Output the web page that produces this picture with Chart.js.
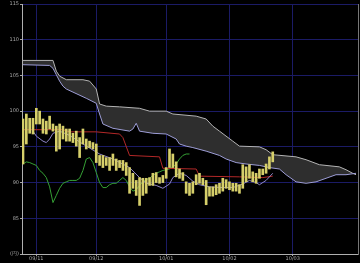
<!DOCTYPE html>
<html>
<head>
<meta charset="utf-8">
<script src="https://cdn.jsdelivr.net/npm/chart.js@4"></script>
<style>
body { margin: 0; background: #000; }
canvas { display: block; }
</style>
</head>
<body>
<canvas id="ichimoku" width="360" height="263"></canvas>
<script>
// month starts (trading day index) and their labels
let monthDays = [4, 22, 43, 62, 81];
let monthLabels = ['09/11', '09/12', '10/01', '10/02', '10/03'];

// y ticks
let priceTicks = [80, 85, 90, 95, 100, 105, 110, 115];

// daily bars (high / low)
let barHigh = [98.9, 99.6, 99.0, 99.0, 100.4, 100.0, 98.9, 98.6, 99.3, 98.2,
  97.9, 98.2, 97.9, 97.5, 97.5, 96.9, 97.2, 96.3, 97.5, 96.1,
  95.8, 95.6, 95.4, 93.8, 93.8, 93.5, 93.5, 94.0, 93.3, 93.1,
  93.1, 92.8, 92.1, 91.3, 90.3, 90.7, 90.6, 90.6, 90.7, 91.3,
  91.4, 90.7, 91.0, 92.1, 94.7, 94.0, 92.9, 91.9, 91.4, 90.1,
  89.9, 90.1, 91.1, 91.3, 90.6, 90.3, 89.4, 89.4, 89.7, 89.9,
  90.6, 90.4, 90.1, 89.9, 89.9, 89.7, 92.5, 92.2, 92.5, 91.5,
  91.3, 91.9, 91.9, 92.6, 93.6, 94.3];
let barLow = [92.6, 95.4, 96.9, 96.8, 98.2, 98.2, 96.9, 96.8, 97.5, 97.2,
  94.4, 94.7, 96.1, 95.8, 95.8, 95.6, 95.1, 93.5, 95.4, 94.7,
  94.9, 94.7, 92.8, 92.4, 92.1, 92.4, 91.7, 92.4, 91.7, 92.1,
  91.7, 91.0, 88.5, 89.2, 88.2, 86.8, 88.2, 88.5, 89.6, 89.6,
  90.0, 89.9, 90.0, 90.6, 92.1, 92.1, 90.8, 90.6, 90.3, 88.5,
  88.2, 88.5, 89.7, 89.9, 89.7, 86.9, 88.1, 88.1, 88.3, 88.5,
  88.8, 89.2, 89.0, 88.8, 88.8, 88.5, 89.2, 90.1, 90.6, 90.1,
  89.9, 90.6, 91.1, 91.3, 91.9, 92.9];

// chikou span (green), from day 0
let chikou = [92.6, 92.9, 92.8, 92.6, 92.4, 91.7, 91.3, 90.7, 89.4, 87.2,
  88.2, 89.2, 89.9, 90.1, 90.3, 90.3, 90.3, 90.6, 91.7, 93.3,
  93.5, 92.8, 91.4, 90.0, 89.3, 89.3, 89.7, 89.9, 89.9, 90.3,
  90.7, 90.3, 89.4, 88.8, 89.0, 89.6, 90.1, 90.4, 90.6, 91.0,
  91.3, 91.5, 91.7, 91.8, 91.9, 92.2, 92.6, 93.3, 93.8, 94.0, 94.0];

// tenkan (lavender)
let tenkanDays = [3, 4, 6, 7, 8, 9, 11, 14, 18, 23, 27, 32, 35, 37, 40, 42, 44, 45, 47, 49,
  51, 53, 56, 60, 63, 66, 68, 70, 71, 73, 75];
let tenkanValues = [97.2, 96.5, 95.8, 95.6, 96.1, 96.9, 97.2, 96.6, 95.4, 94.0, 93.3, 92.1, 90.7, 89.9, 89.6, 89.2, 89.8, 90.7, 91.3, 91.0,
  90.2, 89.7, 89.4, 89.3, 89.3, 89.8, 90.3, 90.0, 89.7, 90.3, 91.3];

// kijun (red)
let kijunDays = [0, 12, 14, 22, 29, 30, 32, 41, 42, 52, 53, 65, 72, 75];
let kijunValues = [97.4, 97.4, 97.1, 97.1, 96.8, 96.3, 93.8, 93.6, 92.0, 91.9, 90.9, 90.8, 90.7, 90.9];

// cloud edges
let spanTopDays = [0, 9, 10, 11, 13, 18, 20, 22, 23, 25, 29, 35, 38, 43, 45, 52, 55, 57, 59, 63,
  65, 71, 73, 75, 82, 85, 89, 95, 97, 99, 100];
let spanTopValues = [107.1, 107.1, 105.6, 104.9, 104.4, 104.4, 104.2, 103.1, 101.0, 100.7, 100.6, 100.4, 100.0, 100.0, 99.6, 99.3, 98.9, 97.9, 97.2, 95.8,
  95.1, 95.0, 94.6, 93.9, 93.6, 93.2, 92.5, 92.2, 91.8, 91.3, 91.1];
let spanLowDays = [0, 8, 9, 10, 11, 12, 13, 19, 22, 23, 24, 27, 32, 33, 34, 35, 39, 43, 46, 47,
  49, 51, 55, 59, 61, 64, 67, 71, 74, 77, 79, 82, 85, 88, 91, 94, 97, 100];
let spanLowValues = [106.5, 106.4, 106.0, 105.1, 104.2, 103.5, 103.1, 101.8, 101.1, 99.6, 98.2, 97.6, 97.2, 97.5, 98.3, 97.2, 96.9, 96.8, 96.1, 95.4,
  95.1, 94.9, 94.4, 93.8, 93.3, 92.8, 92.6, 92.4, 92.1, 91.9, 91.1, 90.1, 89.9, 90.1, 90.6, 91.1, 91.1, 91.3];

function points(days, values) {
  return days.map(function(d, i) { return { x: d, y: values[i] }; });
}

function line(label, data, color, extra) {
  return Object.assign({
    type: 'line', label: label, data: data, borderColor: color,
    borderWidth: 1, pointRadius: 0, tension: 0, fill: false
  }, extra || {});
}

let gridBlue = '#1b1b66';

new Chart(document.getElementById('ichimoku'), {
  type: 'line',
  data: {
    datasets: [
      {
        type: 'bar',
        label: 'price',
        data: barLow.map(function(lo, i) { return { x: i, y: [lo, barHigh[i]] }; }),
        backgroundColor: '#d6cf6a',
        borderWidth: 0,
        barThickness: 2
      },
      line('tenkan', points(tenkanDays, tenkanValues), '#8f86c8'),
      line('kijun', points(kijunDays, kijunValues), '#b32828'),
      line('chikou', chikou.map(function(v, i) { return { x: i, y: v }; }), '#35a035'),
      line('span low', points(spanLowDays, spanLowValues), '#9d9dd6'),
      line('span top', points(spanTopDays, spanTopValues), '#b4b4b4',
        { fill: { target: '-1', above: '#2e2e2e', below: '#2e2e2e' } })
    ]
  },
  options: {
    responsive: false,
    animation: false,
    layout: { padding: { top: 2, right: 0, left: 0, bottom: 0 } },
    plugins: { legend: { display: false }, tooltip: { enabled: false } },
    scales: {
      x: {
        type: 'linear',
        offset: false,
        min: -0.3,
        max: 100.6,
        afterFit: function(scale) { scale.height = 9; },
        afterBuildTicks: function(scale) {
          scale.ticks = monthDays.map(function(d) { return { value: d }; });
        },
        ticks: {
          autoSkip: false,
          maxRotation: 0,
          padding: 0,
          color: '#a8a8a8',
          font: { family: 'DejaVu Sans', size: 5 },
          callback: function(v) { return monthLabels[monthDays.indexOf(v)]; }
        },
        grid: { offset: false, color: gridBlue, tickColor: '#a8a8a8', tickLength: 2 },
        border: { color: '#b0b0b0' }
      },
      y: {
        min: 80,
        max: 115,
        afterFit: function(scale) { scale.width = 22; },
        afterBuildTicks: function(scale) {
          scale.ticks = priceTicks.map(function(v) { return { value: v }; });
        },
        ticks: {
          padding: 1,
          color: '#a8a8a8',
          font: { family: 'DejaVu Sans', size: 5 },
          callback: function(v) { return v === 80 ? '(円)' : v; }
        },
        grid: { color: gridBlue, tickColor: '#a8a8a8', tickLength: 2 },
        border: { color: '#b0b0b0' }
      },
      y2: {
        position: 'right',
        min: 80,
        max: 115,
        afterFit: function(scale) { scale.width = 2; },
        ticks: { display: false },
        grid: { drawOnChartArea: false, drawTicks: false },
        border: { color: '#777777' }
      }
    }
  }
});
</script>
</body>
</html>
